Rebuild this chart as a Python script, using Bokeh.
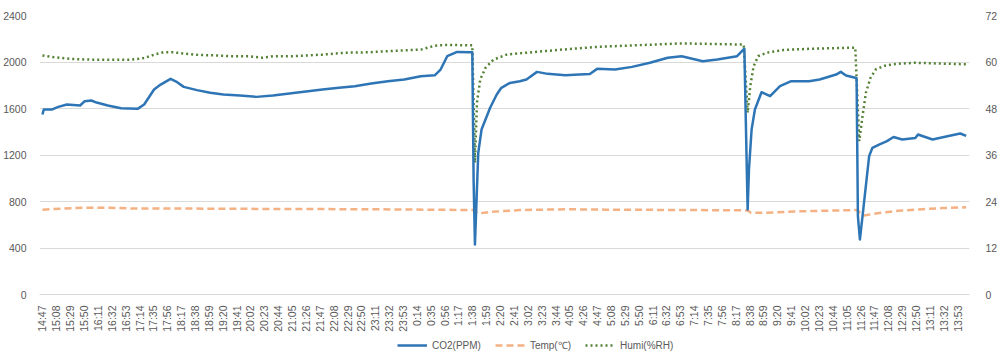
import numpy as np
from bokeh.plotting import figure
from bokeh.layouts import column
from bokeh.models import Range1d, LinearAxis, FixedTicker, Legend, LegendItem, ColumnDataSource
from bokeh.embed import file_html
from bokeh.resources import INLINE

tick_labels = ["14:47", "15:08", "15:29", "15:50", "16:11", "16:32", "16:53", "17:14", "17:35", "17:56",
               "18:17", "18:38", "18:59", "19:20", "19:41", "20:02", "20:23", "20:44", "21:05", "21:26",
               "21:47", "22:08", "22:29", "22:50", "23:11", "23:32", "23:53", "0:14", "0:35", "0:56",
               "1:17", "1:38", "1:59", "2:20", "2:41", "3:02", "3:23", "3:44", "4:05", "4:26",
               "4:47", "5:08", "5:29", "5:50", "6:11", "6:32", "6:53", "7:14", "7:35", "7:56",
               "8:17", "8:38", "8:59", "9:20", "9:41", "10:02", "10:23", "10:44", "11:05", "11:26",
               "11:47", "12:08", "12:29", "12:50", "13:11", "13:32", "13:53"]

co2_times = ["14:47", "14:49", "15:01", "15:11", "15:24", "15:44", "15:51", "16:01", "16:09", "16:26",
             "16:46", "17:11", "17:21", "17:36", "17:46", "18:01", "18:11", "18:21", "18:41", "19:01",
             "19:21", "19:46", "20:11", "20:36", "21:01", "21:26", "21:51", "22:16", "22:40", "23:05",
             "23:30", "23:55", "0:20", "0:41", "0:50", "1:00", "1:15", "1:35", "1:38", "1:40",
             "1:42", "1:47", "1:52", "2:05", "2:15", "2:22", "2:35", "2:50", "3:00", "3:16",
             "3:32", "3:59", "4:20", "4:36", "4:47", "5:14", "5:40", "6:07", "6:34", "6:55",
             "7:27", "7:49", "8:19", "8:30", "8:34", "8:35", "8:37", "8:41", "8:46", "8:56",
             "9:09", "9:24", "9:41", "10:08", "10:24", "10:49", "10:56", "11:04", "11:18", "11:20",
             "11:22", "11:25", "11:29", "11:34", "11:39", "11:44", "11:54", "12:06", "12:16", "12:29",
             "12:49", "12:53", "13:15", "13:41", "13:57", "14:06"]
co2_values = [1548, 1591, 1591, 1614, 1634, 1626, 1663, 1669, 1651, 1626,
              1603, 1597, 1634, 1763, 1806, 1855, 1826, 1786, 1758, 1735,
              1720, 1712, 1700, 1712, 1729, 1746, 1763, 1778, 1792, 1815,
              1835, 1849, 1878, 1885, 1935, 2050, 2087, 2084, 2084, 975,
              430, 1218, 1419, 1606, 1720, 1778, 1820, 1835, 1850, 1915,
              1898, 1887, 1892, 1897, 1941, 1935, 1958, 1993, 2036, 2050,
              2007, 2022, 2050, 2114, 1000, 731, 1075, 1419, 1591, 1740,
              1706, 1792, 1835, 1835, 1850, 1892, 1915, 1884, 1864, 1860,
              674, 473, 674, 932, 1190, 1262, 1290, 1319, 1355, 1333,
              1347, 1376, 1333, 1365, 1385, 1365]

temp_times = ["14:47", "15:20", "15:50", "16:30", "17:00", "18:00", "20:00", "23:00", "1:40", "1:47",
              "2:05", "2:50", "4:00", "5:00", "7:00", "8:35", "8:40", "9:00", "9:30", "10:00",
              "11:20", "11:31", "11:49", "12:08", "12:29", "13:00", "13:30", "14:06"]
temp_values = [21.9, 22.2, 22.4, 22.4, 22.2, 22.2, 22.1, 22.0, 21.8, 20.9,
               21.3, 21.8, 22.0, 21.9, 21.8, 21.7, 21.1, 21.1, 21.3, 21.5,
               21.8, 20.4, 20.9, 21.3, 21.7, 22.0, 22.3, 22.5]

humi_times = ["14:47", "15:01", "15:30", "16:00", "17:00", "17:21", "17:36", "17:50", "18:05", "18:21",
              "18:45", "19:10", "19:30", "20:00", "20:20", "20:36", "21:05", "21:51", "22:25", "23:00",
              "23:20", "23:55", "0:20", "0:41", "0:58", "1:38", "1:42", "1:45", "1:50", "1:58",
              "2:10", "2:30", "3:00", "3:54", "4:47", "6:55", "8:29", "8:35", "8:39", "8:44",
              "8:51", "9:04", "9:29", "10:08", "11:18", "11:24", "11:29", "11:34", "11:41", "11:49",
              "12:04", "12:19", "12:48", "14:06"]
humi_values = [61.7, 61.3, 60.8, 60.6, 60.6, 61.0, 61.9, 62.5, 62.5, 62.2,
               61.8, 61.7, 61.5, 61.5, 61.1, 61.5, 61.5, 61.9, 62.4, 62.5,
               62.7, 63.0, 63.2, 64.2, 64.4, 64.3, 34.0, 49.5, 55.5, 58.5,
               60.6, 61.9, 62.4, 63.2, 63.9, 64.8, 64.5, 46.9, 53.8, 58.9,
               61.5, 62.4, 63.1, 63.4, 63.7, 39.6, 46.0, 52.0, 55.9, 58.1,
               59.1, 59.5, 59.8, 59.4]

series_names = ["CO2(PPM)", "Temp(℃)", "Humi(%RH)"]

START = 14 * 60 + 47


def to_min(s):
    h, m = s.split(":")
    return (int(h) * 60 + int(m) - START) % 1440


FONT = "Liberation Sans"
FS = "10.5px"
TXT = "#595959"
GRID = "#d9d9d9"
C_CO2, C_TEMP, C_HUMI = "#2E75B6", "#F4B183", "#548235"

p = figure(width=1000, height=335, output_backend="svg", toolbar_location=None,
           x_range=Range1d(-4.5, 1404), y_range=Range1d(0, 2400),
           min_border_top=15, min_border_left=34, min_border_right=25, min_border_bottom=41)
p.outline_line_color = None
p.extra_y_ranges = {"humi": Range1d(0, 72)}

co2_src = ColumnDataSource(dict(x=[to_min(t) for t in co2_times], y=co2_values))
temp_src = ColumnDataSource(dict(x=[to_min(t) for t in temp_times], y=temp_values))
humi_src = ColumnDataSource(dict(x=[to_min(t) for t in humi_times], y=humi_values))

p.line("x", "y", source=temp_src, y_range_name="humi", line_color=C_TEMP,
       line_width=2.5, line_dash="7 4")
p.line("x", "y", source=humi_src, y_range_name="humi", line_color=C_HUMI,
       line_width=2.5, line_dash="2 3")
p.line("x", "y", source=co2_src, line_color=C_CO2, line_width=2.5, line_join="round")

# x axis
xticks = [i * 21 for i in range(len(tick_labels))]
p.xaxis.ticker = FixedTicker(ticks=xticks)
p.xaxis.major_label_overrides = {t: l for t, l in zip(xticks, tick_labels)}
p.xaxis.major_label_orientation = np.pi / 2
p.xaxis.axis_line_color = GRID
p.xaxis.major_tick_line_color = None
p.xaxis.minor_tick_line_color = None
p.xaxis.major_label_text_font = FONT
p.xaxis.major_label_text_font_size = FS
p.xaxis.major_label_text_color = TXT
p.xaxis.major_label_standoff = 5
p.xgrid.visible = False

# left axis
p.yaxis.ticker = FixedTicker(ticks=list(range(0, 2401, 400)))
p.yaxis.axis_line_color = None
p.yaxis.major_tick_line_color = None
p.yaxis.minor_tick_line_color = None
p.yaxis.major_label_text_font = FONT
p.yaxis.major_label_text_font_size = FS
p.yaxis.major_label_text_color = TXT
p.yaxis.major_label_standoff = 7
p.ygrid.grid_line_color = GRID

# right axis
ra = LinearAxis(y_range_name="humi", ticker=FixedTicker(ticks=list(range(0, 73, 12))))
ra.axis_line_color = None
ra.major_tick_line_color = None
ra.minor_tick_line_color = None
ra.major_label_text_font = FONT
ra.major_label_text_font_size = FS
ra.major_label_text_color = TXT
ra.major_label_standoff = 10
p.add_layout(ra, "right")

# legend strip (its frame is aligned with the main frame by the column layout)
lf = figure(width=1000, height=24, output_backend="svg", toolbar_location=None,
            x_range=Range1d(0, 1), y_range=Range1d(0, 1),
            min_border_top=0, min_border_left=0, min_border_right=0, min_border_bottom=0)
lf.outline_line_color = None
lf.axis.visible = False
lf.grid.visible = False
g_co2 = lf.line(x=[-5, -4], y=[-5, -5], line_color=C_CO2, line_width=2.5)
g_temp = lf.line(x=[-5, -4], y=[-5, -5], line_color=C_TEMP, line_width=2.5, line_dash="7 4")
g_humi = lf.line(x=[-5, -4], y=[-5, -5], line_color=C_HUMI, line_width=2.5, line_dash="2 3")

legend = Legend(items=[LegendItem(label=series_names[0], renderers=[g_co2]),
                       LegendItem(label=series_names[1], renderers=[g_temp]),
                       LegendItem(label=series_names[2], renderers=[g_humi])],
                orientation="horizontal", location=(358, 7),
                border_line_color=None, background_fill_alpha=0,
                label_text_font=FONT, label_text_font_size="10px", label_text_color=TXT,
                glyph_width=30, spacing=14, padding=0, margin=0, label_standoff=5,
                label_height=14, glyph_height=14)
lf.add_layout(legend, "center")

layout = column(p, lf, spacing=0)
open("out.html", "w").write(file_html(layout, INLINE))
